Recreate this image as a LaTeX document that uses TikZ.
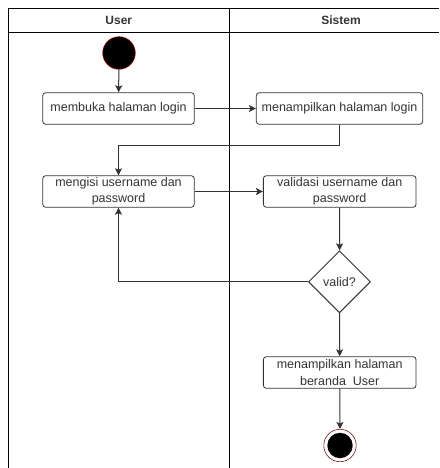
\documentclass[tikz,border=0pt]{standalone}
\usepackage{fontspec}
\setmainfont{Liberation Sans}
\usepackage{xcolor}
\usetikzlibrary{shapes.geometric, arrows.meta}

\definecolor{linegray}{HTML}{333333}
\definecolor{startred}{HTML}{B20000}
\definecolor{endred}{HTML}{7A1A1A}

\begin{document}
\begin{tikzpicture}[x=1pt, y=-1pt,
            act/.style={rectangle, draw=linegray, line width=0.8pt, rounded corners=3pt, align=center, text=linegray,
                minimum height=31.6pt, inner sep=1pt, font=\fontsize{12.5}{16.5}\selectfont},
            flow/.style={draw=linegray, line width=1pt, -{Stealth[length=7pt, width=7pt, inset=1.5pt]}},
            lane/.style={draw=black, line width=0.9pt}]
            \useasboundingbox (0, 0) rectangle (439, 468);

            % swimlanes
            \draw[lane] (439, 8.3) -- (8.5, 8.3) -- (8.5, 468);
            \draw[lane] (8.5, 32) -- (439, 32);
            \draw[lane] (229, 8.3) -- (229, 468);
            \node[font=\bfseries\fontsize{12}{14}\selectfont, text=linegray] (user) at (118.8, 20.2) {User};
            \node[font=\bfseries\fontsize{12}{14}\selectfont, text=linegray] (sistem) at (341, 20.2) {Sistem};

            \node[circle, draw=startred, line width=0.5pt, fill=black, minimum size=32.6pt, inner sep=0pt] (start) at (119, 53) {};

            \node[act, minimum width=151.6pt] (login) at (118.5, 108.5) {membuka halaman login};
            \node[act, minimum width=166.4pt] (tampil) at (339.5, 108.5) {menampilkan halaman login};

            \node[act, minimum width=151.6pt] (isi) at (118.5, 191.5) {mengisi username dan\\password};
            \node[act, minimum width=152.7pt] (validasi) at (339.7, 191.5) {validasi username dan\\password};

            \node[diamond, draw=linegray, line width=1pt, text=linegray, inner sep=0pt, minimum width=62pt, minimum height=62pt,
                font=\fontsize{12.5}{15}\selectfont] (valid) at (339.5, 281.8) {valid?};

            \node[act, minimum width=152.7pt] (beranda) at (339.7, 372.5) {menampilkan halaman\\beranda\ \ User};

            \node[circle, draw=endred, line width=0.6pt, fill=white, minimum size=32.4pt, inner sep=0pt] (finish) at (340, 445.5) {};
            \node[circle, fill=black, minimum size=25.4pt, inner sep=0pt] (finishdot) at (finish) {};

            % connectors
            \draw[flow] (start) -- (login);
            \draw[flow] (login) -- (tampil);
            \draw[flow] (tampil.south) -- ++(0, 20.7) -| (isi.north);
            \draw[flow] (isi) -- (validasi);
            \draw[flow] (validasi) -- (valid);
            \draw[flow] (valid.west) -| (isi.south);
            \draw[flow] (valid) -- (beranda);
            \draw[flow] (beranda) -- (finish);
        \end{tikzpicture}
\end{document}
